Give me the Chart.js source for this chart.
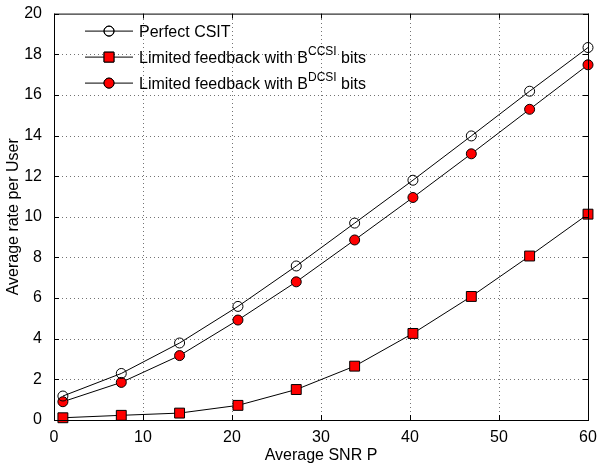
<!DOCTYPE html>
<html>
<head>
<meta charset="utf-8">
<script src="https://cdn.jsdelivr.net/npm/chart.js@4"></script>
<style>
  html, body { margin: 0; padding: 0; background: #fff; }
  #wrap { width: 599px; height: 465px; }
</style>
</head>
<body>
<div id="wrap"><canvas id="chart" width="599" height="465"></canvas></div>
<script>
// valores
const snr = [1, 7.56, 14.11, 20.67, 27.22, 33.78, 40.33, 46.89, 53.44, 60];
const perfectCsit = [1.18, 2.29, 3.79, 5.59, 7.58, 9.69, 11.8, 13.98, 16.18, 18.33];
const ccsiBits = [0.11, 0.23, 0.34, 0.72, 1.5, 2.65, 4.26, 6.08, 8.07, 10.13];
const dcsiBits = [0.9, 1.85, 3.17, 4.92, 6.8, 8.86, 10.95, 13.1, 15.29, 17.48];
const xTicks = [0, 10, 20, 30, 40, 50, 60];
const yTicks = [0, 2, 4, 6, 8, 10, 12, 14, 16, 18, 20];

const FONT = '"Liberation Sans", Arial, Helvetica, sans-serif';

function toPoints(ys) {
  return ys.map((y, i) => ({ x: snr[i], y: y }));
}

// leyenda a mano para poder poner los superindices
const legendEntries = [
  { text: 'Perfect CSIT', sup: '', after: '', style: 'circle', fill: 'rgba(0,0,0,0)', r: 5 },
  { text: 'Limited feedback with B', sup: 'CCSI', after: ' bits', style: 'rect', fill: '#ff0000', r: 7 },
  { text: 'Limited feedback with B', sup: 'DCSI', after: ' bits', style: 'circle', fill: '#ff0000', r: 5 }
];

// rejilla punteada estilo matlab
const gridPlugin = {
  id: 'gridPlugin',
  beforeDatasetsDraw(chart) {
    const ctx = chart.ctx;
    const a = chart.chartArea;
    const xs = chart.scales.x;
    const ys = chart.scales.y;
    ctx.save();
    ctx.strokeStyle = 'rgba(0,0,0,0.55)';
    ctx.lineWidth = 1;
    ctx.setLineDash([1, 3]);
    ctx.beginPath();
    xTicks.slice(1, -1).forEach(v => {
      const px = Math.round(xs.getPixelForValue(v)) + 0.5;
      ctx.moveTo(px, a.bottom); ctx.lineTo(px, a.top);
    });
    yTicks.slice(1, -1).forEach(v => {
      const py = Math.round(ys.getPixelForValue(v)) + 0.5;
      ctx.moveTo(a.left, py); ctx.lineTo(a.right, py);
    });
    ctx.stroke();
    ctx.restore();
  }
};

const boxPlugin = {
  id: 'boxPlugin',
  afterDraw(chart) {
    const ctx = chart.ctx;
    const a = chart.chartArea;
    const xs = chart.scales.x;
    const ys = chart.scales.y;
    ctx.save();
    ctx.strokeStyle = '#000';
    ctx.lineWidth = 1;
    ctx.strokeRect(a.left + 0.5, a.top + 0.5, a.right - a.left, a.bottom - a.top);
    // marcas de los ejes hacia dentro
    ctx.beginPath();
    xTicks.forEach(v => {
      const px = Math.round(xs.getPixelForValue(v)) + 0.5;
      ctx.moveTo(px, a.bottom); ctx.lineTo(px, a.bottom - 5);
      ctx.moveTo(px, a.top); ctx.lineTo(px, a.top + 5);
    });
    yTicks.forEach(v => {
      const py = Math.round(ys.getPixelForValue(v)) + 0.5;
      ctx.moveTo(a.left, py); ctx.lineTo(a.left + 5, py);
      ctx.moveTo(a.right, py); ctx.lineTo(a.right - 5, py);
    });
    ctx.stroke();

    // leyenda
    const x0 = a.left + 31, x1 = a.left + 79, tx = a.left + 85;
    legendEntries.forEach((e, i) => {
      const y = a.top + 17.5 + i * 26;
      ctx.beginPath();
      ctx.moveTo(x0, y); ctx.lineTo(x1, y);
      ctx.stroke();
      Chart.helpers.drawPoint(ctx, {
        pointStyle: e.style, radius: e.r, borderWidth: 1, rotation: 0
      }, (x0 + x1) / 2, y);
      ctx.fillStyle = e.fill;
      ctx.fill();
      ctx.stroke();
      ctx.fillStyle = '#000';
      ctx.textBaseline = 'middle';
      ctx.textAlign = 'left';
      ctx.font = '16px ' + FONT;
      ctx.fillText(e.text, tx, y + 1);
      let w = ctx.measureText(e.text).width;
      if (e.sup) {
        ctx.font = '12px ' + FONT;
        ctx.fillText(e.sup, tx + w, y - 5);
        w += ctx.measureText(e.sup).width;
        ctx.font = '16px ' + FONT;
        ctx.fillText(e.after, tx + w, y + 1);
      }
    });
    ctx.restore();
  }
};

function series(label, ys, style, fill, r) {
  return {
    label: label,
    data: toPoints(ys),
    borderColor: '#000',
    borderWidth: 1,
    pointStyle: style,
    pointRadius: r,
    pointHoverRadius: r,
    pointBackgroundColor: fill,
    pointBorderColor: '#000',
    pointBorderWidth: 1,
    tension: 0,
    fill: false,
    clip: false
  };
}

new Chart(document.getElementById('chart'), {
  type: 'line',
  data: {
    datasets: [
      series('Perfect CSIT', perfectCsit, 'circle', 'rgba(0,0,0,0)', 5),
      series('Limited feedback with B^CCSI bits', ccsiBits, 'rect', '#ff0000', 7),
      series('Limited feedback with B^DCSI bits', dcsiBits, 'circle', '#ff0000', 5)
    ]
  },
  options: {
    responsive: false,
    animation: false,
    layout: { padding: { left: 0, right: 11, top: 12, bottom: 0 } },
    plugins: {
      legend: { display: false },
      tooltip: { enabled: false }
    },
    scales: {
      x: {
        type: 'linear',
        min: 0, max: 60,
        afterBuildTicks: s => { s.ticks = xTicks.map(v => ({ value: v })); },
        afterFit: s => { s.height = 45; },
        ticks: { color: '#000', font: { family: FONT, size: 16 }, padding: 0, maxRotation: 0 },
        grid: { display: false },
        border: { display: false },
        title: { display: true, text: 'Average SNR P', color: '#000', font: { family: FONT, size: 16 }, padding: { top: 0, bottom: 0 } }
      },
      y: {
        type: 'linear',
        min: 0, max: 20,
        afterBuildTicks: s => { s.ticks = yTicks.map(v => ({ value: v })); },
        afterFit: s => { s.width = 54; },
        ticks: { color: '#000', font: { family: FONT, size: 16 }, padding: 4 },
        grid: { display: false },
        border: { display: false },
        title: { display: true, text: 'Average rate per User', color: '#000', font: { family: FONT, size: 16 }, padding: { top: 4, bottom: 0 } }
      }
    }
  },
  plugins: [gridPlugin, boxPlugin]
});
</script>
</body>
</html>
